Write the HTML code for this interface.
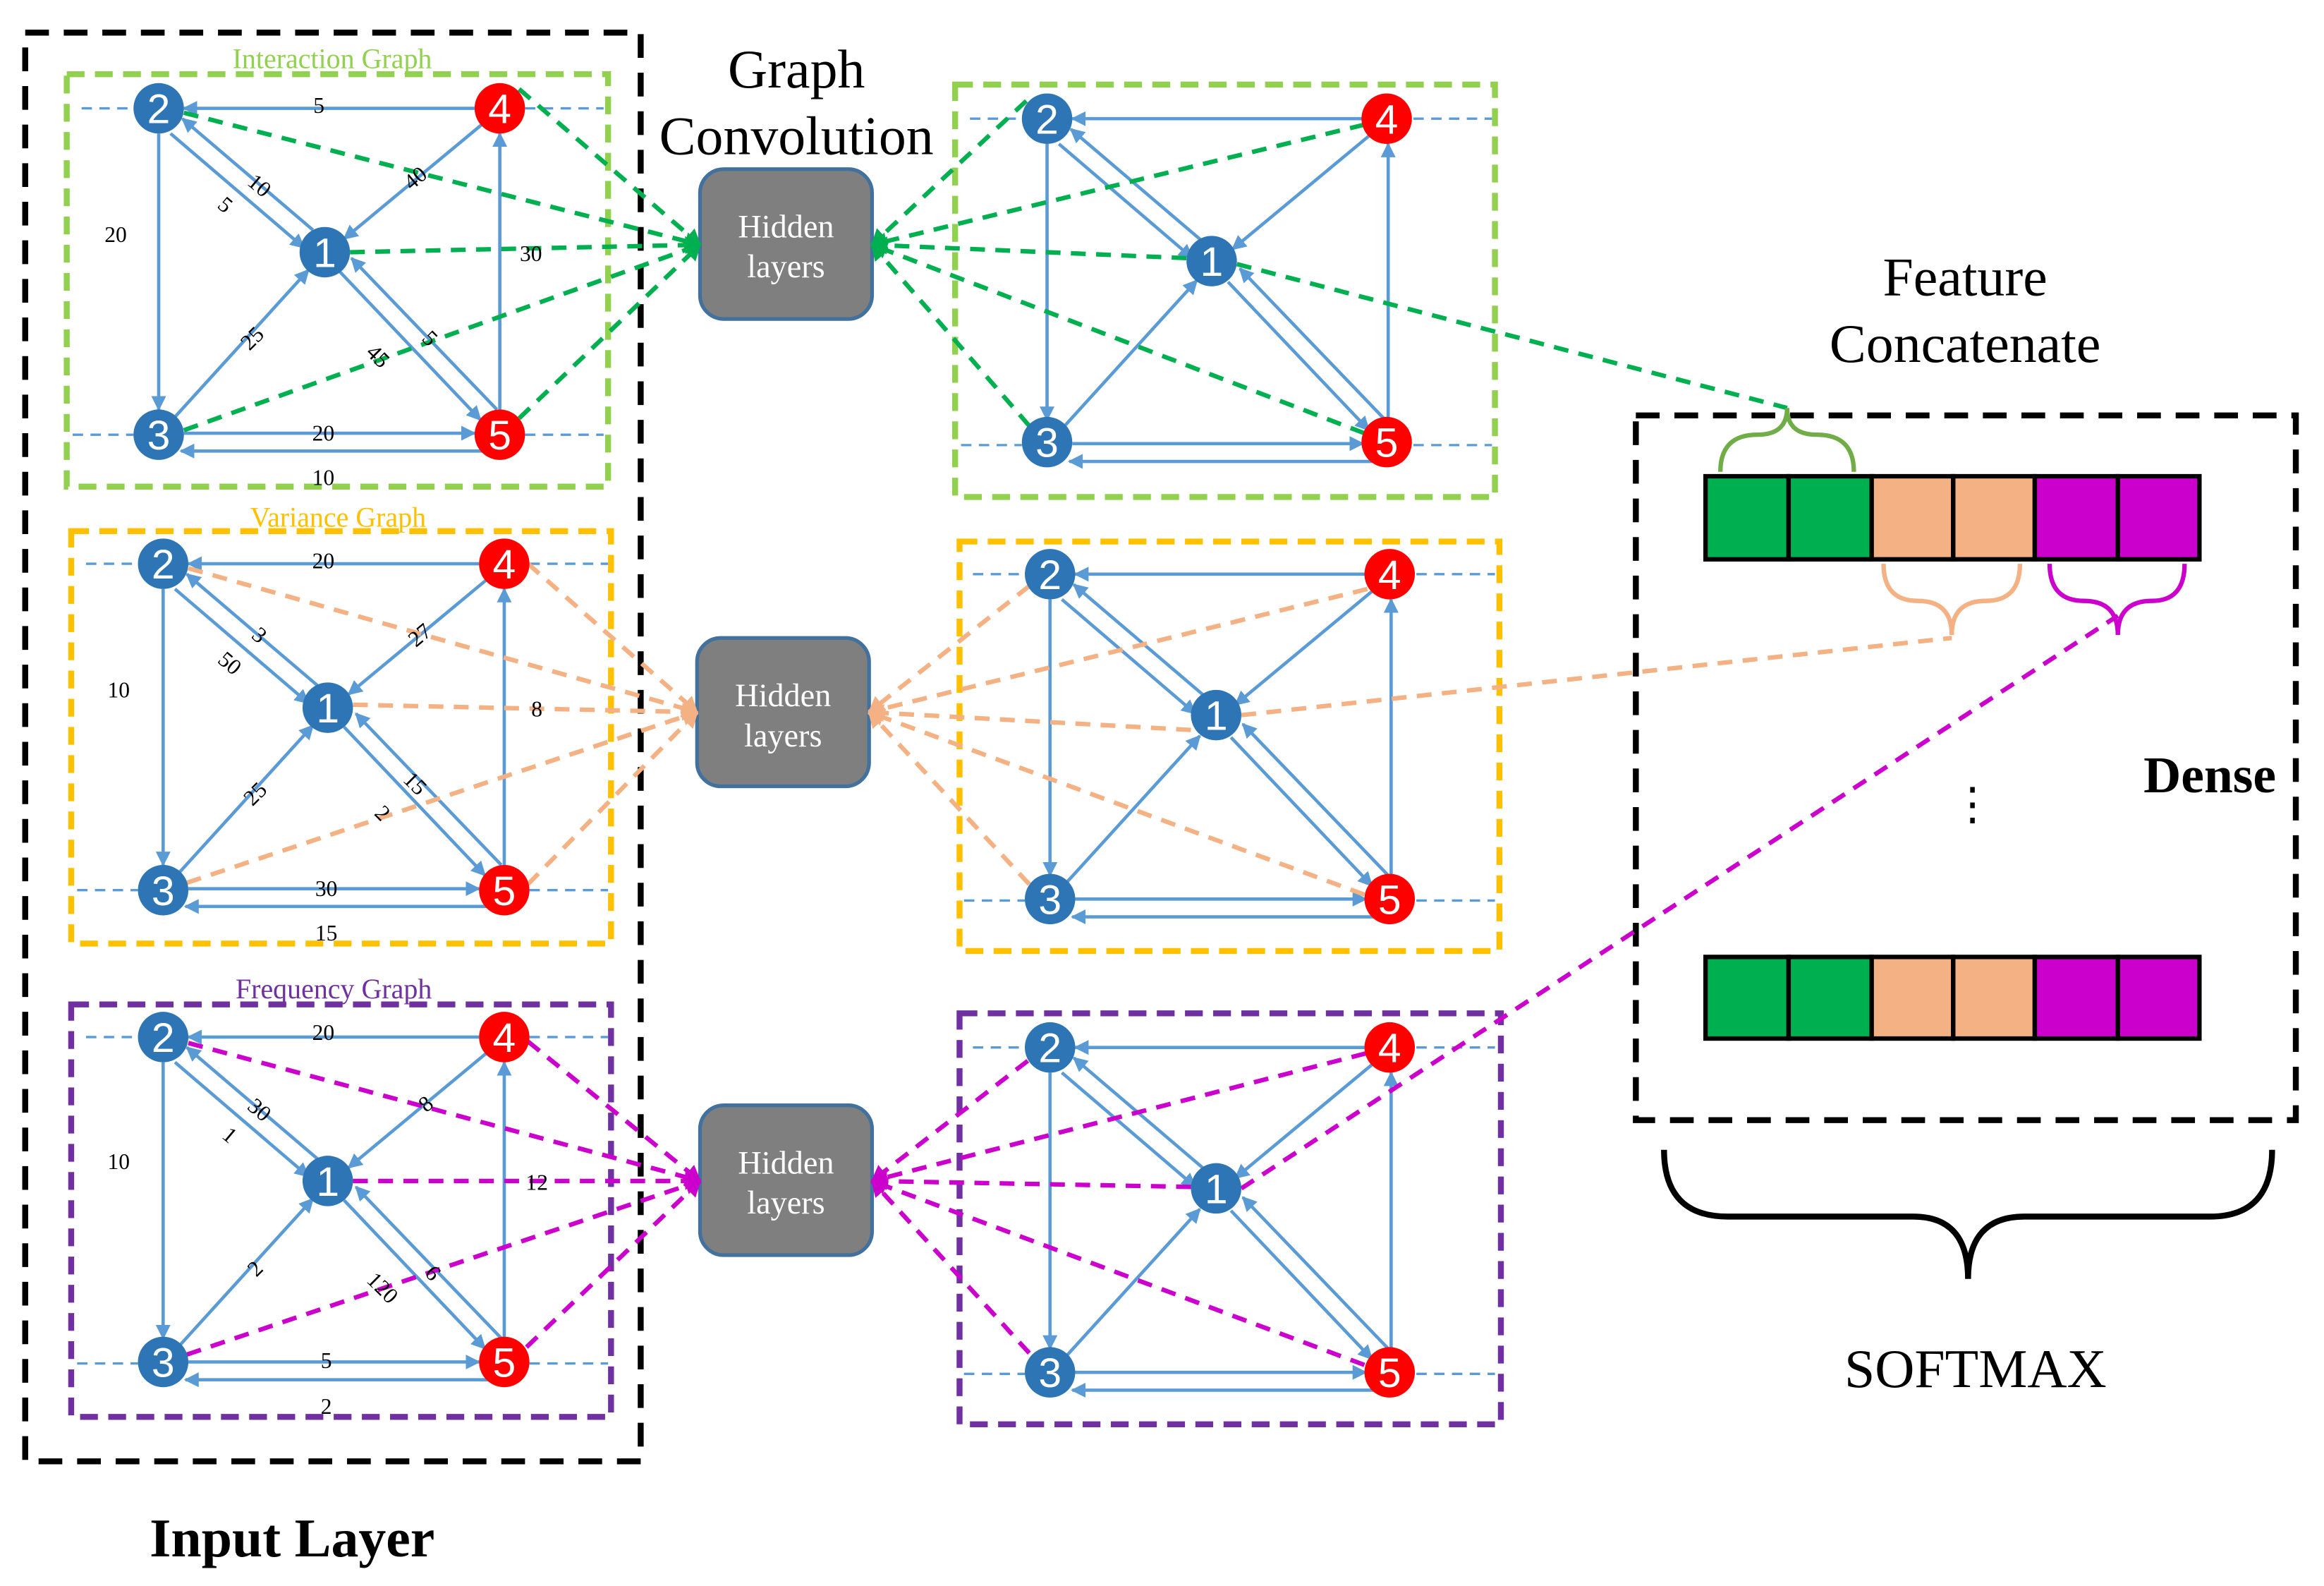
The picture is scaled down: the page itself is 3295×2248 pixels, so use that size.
<!DOCTYPE html>
<html><head><meta charset="utf-8"><style>
html,body{margin:0;padding:0;background:#fff;}
svg{display:block;}
text{font-family:"Liberation Serif",serif;}
.n{font-family:"Liberation Sans",sans-serif;fill:#fff;font-size:28px;text-anchor:middle;}
.lb{font-size:15px;fill:#000;text-anchor:middle;}
.e{stroke:#5b9bd5;stroke-width:2.2;fill:none;marker-end:url(#ab);}
.d{stroke:#5b9bd5;stroke-width:1.6;stroke-dasharray:7 5;fill:none;}
.g{stroke:#00b050;stroke-width:3;stroke-dasharray:10 7;fill:none;}
.o{stroke:#f4b183;stroke-width:3;stroke-dasharray:10 7;fill:none;}
.m{stroke:#cc00cc;stroke-width:3;stroke-dasharray:10 7;fill:none;}
</style></head><body>
<svg width="3295" height="2248" viewBox="0 0 1567 1069" preserveAspectRatio="none" xmlns="http://www.w3.org/2000/svg">
<defs>
<marker id="ab" markerWidth="10" markerHeight="10" refX="9" refY="5" orient="auto" markerUnits="userSpaceOnUse"><path d="M0,0 L10,5 L0,10 z" fill="#5b9bd5"/></marker>
<marker id="ag" markerWidth="12" markerHeight="12" refX="10" refY="6" orient="auto" markerUnits="userSpaceOnUse"><path d="M0,0 L11,6 L0,12 z" fill="#00b050"/></marker>
<marker id="ao" markerWidth="12" markerHeight="12" refX="10" refY="6" orient="auto" markerUnits="userSpaceOnUse"><path d="M0,0 L11,6 L0,12 z" fill="#f4b183"/></marker>
<marker id="am" markerWidth="12" markerHeight="12" refX="10" refY="6" orient="auto" markerUnits="userSpaceOnUse"><path d="M0,0 L11,6 L0,12 z" fill="#cc00cc"/></marker>
<g id="sk">
<line class="d" x1="-52" y1="0" x2="-17" y2="0"/>
<line class="d" x1="247" y1="0" x2="300" y2="0"/>
<line class="d" x1="-58" y1="220" x2="-17" y2="220"/>
<line class="d" x1="247" y1="220" x2="300" y2="220"/>
<line class="e" x1="213" y1="0" x2="17" y2="0"/>
<line class="e" x1="0" y1="17" x2="0" y2="203"/>
<line class="e" x1="230" y1="203" x2="230" y2="17"/>
<line class="e" x1="17" y1="219" x2="213" y2="219"/>
<line class="e" x1="222" y1="231" x2="15" y2="231"/>
<line class="e" x1="8" y1="17" x2="98" y2="94"/>
<line class="e" x1="104" y1="82" x2="16" y2="7"/>
<line class="e" x1="11" y1="208" x2="101" y2="109"/>
<line class="e" x1="219" y1="10" x2="125" y2="88"/>
<line class="e" x1="122" y1="110" x2="217" y2="210"/>
<line class="e" x1="228" y1="203" x2="130" y2="101"/>
</g>
</defs>

<rect x="17" y="22" width="415" height="963" fill="none" stroke="#000" stroke-width="4" stroke-dasharray="16 10"/>
<rect x="1103" y="280" width="445" height="475" fill="none" stroke="#000" stroke-width="4" stroke-dasharray="16 10"/>

<rect x="45" y="50" width="365" height="278" fill="none" stroke="#92d050" stroke-width="4" stroke-dasharray="12 7"/>
<rect x="644" y="57" width="364" height="278" fill="none" stroke="#92d050" stroke-width="4" stroke-dasharray="12 7"/>
<rect x="48" y="358" width="364" height="278" fill="none" stroke="#ffc000" stroke-width="4" stroke-dasharray="12 7"/>
<rect x="647" y="365" width="364" height="276" fill="none" stroke="#ffc000" stroke-width="4" stroke-dasharray="12 7"/>
<rect x="48" y="677" width="364" height="278" fill="none" stroke="#7030a0" stroke-width="4" stroke-dasharray="12 7"/>
<rect x="647" y="683" width="365" height="277" fill="none" stroke="#7030a0" stroke-width="4" stroke-dasharray="12 7"/>

<text x="224" y="46" font-size="19" fill="#92d050" text-anchor="middle">Interaction Graph</text>
<text x="228" y="355" font-size="19" fill="#ffc000" text-anchor="middle">Variance Graph</text>
<text x="225" y="673" font-size="19" fill="#7030a0" text-anchor="middle">Frequency Graph</text>

<use href="#sk" x="107" y="73"/>
<use href="#sk" x="706" y="80"/>
<use href="#sk" x="110" y="380"/>
<use href="#sk" x="708" y="387"/>
<use href="#sk" x="110" y="699"/>
<use href="#sk" x="708" y="706"/>

<rect x="472" y="114" width="116" height="101" rx="16" fill="#7f7f7f" stroke="#41719c" stroke-width="2.5"/>
<rect x="470" y="430" width="116" height="100" rx="16" fill="#7f7f7f" stroke="#41719c" stroke-width="2.5"/>
<rect x="472" y="745" width="116" height="101" rx="16" fill="#7f7f7f" stroke="#41719c" stroke-width="2.5"/>
<text x="530" y="160" font-size="22" fill="#fff" text-anchor="middle">Hidden</text>
<text x="530" y="187" font-size="22" fill="#fff" text-anchor="middle">layers</text>
<text x="528" y="476" font-size="22" fill="#fff" text-anchor="middle">Hidden</text>
<text x="528" y="503" font-size="22" fill="#fff" text-anchor="middle">layers</text>
<text x="530" y="791" font-size="22" fill="#fff" text-anchor="middle">Hidden</text>
<text x="530" y="818" font-size="22" fill="#fff" text-anchor="middle">layers</text>

<g class="g">
<line x1="124" y1="76" x2="472" y2="165" marker-end="url(#ag)"/>
<line x1="350" y1="60" x2="472" y2="165" marker-end="url(#ag)"/>
<line x1="236" y1="170" x2="472" y2="165" marker-end="url(#ag)"/>
<line x1="124" y1="290" x2="472" y2="165" marker-end="url(#ag)"/>
<line x1="350" y1="282" x2="472" y2="165" marker-end="url(#ag)"/>
<line x1="692" y1="68" x2="588" y2="165" marker-end="url(#ag)"/>
<line x1="920" y1="84" x2="588" y2="165" marker-end="url(#ag)"/>
<line x1="800" y1="174" x2="588" y2="165" marker-end="url(#ag)"/>
<line x1="694" y1="287" x2="588" y2="165" marker-end="url(#ag)"/>
<line x1="920" y1="292" x2="588" y2="165" marker-end="url(#ag)"/>
<line x1="834" y1="178" x2="1205" y2="275"/>
</g>
<g class="o">
<line x1="127" y1="383" x2="470" y2="480" marker-end="url(#ao)"/>
<line x1="356" y1="380" x2="470" y2="480" marker-end="url(#ao)"/>
<line x1="238" y1="475" x2="470" y2="480" marker-end="url(#ao)"/>
<line x1="126" y1="595" x2="470" y2="480" marker-end="url(#ao)"/>
<line x1="356" y1="596" x2="470" y2="480" marker-end="url(#ao)"/>
<line x1="694" y1="395" x2="586" y2="480" marker-end="url(#ao)"/>
<line x1="922" y1="397" x2="586" y2="480" marker-end="url(#ao)"/>
<line x1="803" y1="492" x2="586" y2="480" marker-end="url(#ao)"/>
<line x1="694" y1="596" x2="586" y2="480" marker-end="url(#ao)"/>
<line x1="920" y1="603" x2="586" y2="480" marker-end="url(#ao)"/>
<line x1="837" y1="482" x2="1316" y2="430"/>
</g>
<g class="m">
<line x1="127" y1="703" x2="472" y2="796" marker-end="url(#am)"/>
<line x1="356" y1="702" x2="472" y2="796" marker-end="url(#am)"/>
<line x1="238" y1="796" x2="472" y2="796" marker-end="url(#am)"/>
<line x1="126" y1="913" x2="472" y2="796" marker-end="url(#am)"/>
<line x1="355" y1="908" x2="472" y2="796" marker-end="url(#am)"/>
<line x1="693" y1="715" x2="588" y2="796" marker-end="url(#am)"/>
<line x1="921" y1="710" x2="588" y2="796" marker-end="url(#am)"/>
<line x1="803" y1="800" x2="588" y2="796" marker-end="url(#am)"/>
<line x1="694" y1="912" x2="588" y2="796" marker-end="url(#am)"/>
<line x1="920" y1="920" x2="588" y2="796" marker-end="url(#am)"/>
<line x1="837" y1="801" x2="1428" y2="415"/>
</g>

<g>
<circle cx="107" cy="73" r="17" fill="#2e75b6"/><text class="n" x="107" y="83">2</text>
<circle cx="337" cy="73" r="17" fill="#ff0000"/><text class="n" x="337" y="83">4</text>
<circle cx="219" cy="170" r="17" fill="#2e75b6"/><text class="n" x="219" y="180">1</text>
<circle cx="107" cy="293" r="17" fill="#2e75b6"/><text class="n" x="107" y="303">3</text>
<circle cx="337" cy="293" r="17" fill="#ff0000"/><text class="n" x="337" y="303">5</text>

<circle cx="706" cy="80" r="17" fill="#2e75b6"/><text class="n" x="706" y="90">2</text>
<circle cx="935" cy="80" r="17" fill="#ff0000"/><text class="n" x="935" y="90">4</text>
<circle cx="817" cy="176" r="17" fill="#2e75b6"/><text class="n" x="817" y="186">1</text>
<circle cx="706" cy="298" r="17" fill="#2e75b6"/><text class="n" x="706" y="308">3</text>
<circle cx="935" cy="298" r="17" fill="#ff0000"/><text class="n" x="935" y="308">5</text>

<circle cx="110" cy="380" r="17" fill="#2e75b6"/><text class="n" x="110" y="390">2</text>
<circle cx="340" cy="380" r="17" fill="#ff0000"/><text class="n" x="340" y="390">4</text>
<circle cx="221" cy="477" r="17" fill="#2e75b6"/><text class="n" x="221" y="487">1</text>
<circle cx="110" cy="600" r="17" fill="#2e75b6"/><text class="n" x="110" y="610">3</text>
<circle cx="340" cy="600" r="17" fill="#ff0000"/><text class="n" x="340" y="610">5</text>

<circle cx="708" cy="387" r="17" fill="#2e75b6"/><text class="n" x="708" y="397">2</text>
<circle cx="937" cy="387" r="17" fill="#ff0000"/><text class="n" x="937" y="397">4</text>
<circle cx="820" cy="482" r="17" fill="#2e75b6"/><text class="n" x="820" y="492">1</text>
<circle cx="708" cy="606" r="17" fill="#2e75b6"/><text class="n" x="708" y="616">3</text>
<circle cx="937" cy="606" r="17" fill="#ff0000"/><text class="n" x="937" y="616">5</text>

<circle cx="110" cy="699" r="17" fill="#2e75b6"/><text class="n" x="110" y="709">2</text>
<circle cx="340" cy="699" r="17" fill="#ff0000"/><text class="n" x="340" y="709">4</text>
<circle cx="221" cy="796" r="17" fill="#2e75b6"/><text class="n" x="221" y="806">1</text>
<circle cx="110" cy="918" r="17" fill="#2e75b6"/><text class="n" x="110" y="928">3</text>
<circle cx="340" cy="918" r="17" fill="#ff0000"/><text class="n" x="340" y="928">5</text>

<circle cx="708" cy="706" r="17" fill="#2e75b6"/><text class="n" x="708" y="716">2</text>
<circle cx="937" cy="706" r="17" fill="#ff0000"/><text class="n" x="937" y="716">4</text>
<circle cx="820" cy="801" r="17" fill="#2e75b6"/><text class="n" x="820" y="811">1</text>
<circle cx="708" cy="925" r="17" fill="#2e75b6"/><text class="n" x="708" y="935">3</text>
<circle cx="937" cy="925" r="17" fill="#ff0000"/><text class="n" x="937" y="935">5</text>
</g>

<g class="lb">
<text x="215" y="76">5</text><text x="78" y="163">20</text>
<text x="175" y="130" transform="rotate(40 175 125)">10</text>
<text x="152" y="143" transform="rotate(40 152 138)">5</text>
<text x="280" y="125" transform="rotate(-40 280 120)">40</text>
<text x="358" y="176">30</text>
<text x="170" y="233" transform="rotate(-45 170 228)">25</text>
<text x="255" y="245" transform="rotate(45 255 240)">45</text>
<text x="290" y="233" transform="rotate(45 290 228)">5</text>
<text x="218" y="297">20</text><text x="218" y="327">10</text>

<text x="218" y="383">20</text><text x="80" y="470">10</text>
<text x="175" y="433" transform="rotate(40 175 428)">3</text>
<text x="155" y="452" transform="rotate(40 155 447)">50</text>
<text x="283" y="433" transform="rotate(-40 283 428)">27</text>
<text x="362" y="483">8</text>
<text x="172" y="540" transform="rotate(-45 172 535)">25</text>
<text x="280" y="533" transform="rotate(45 280 528)">15</text>
<text x="258" y="553" transform="rotate(45 258 548)">2</text>
<text x="220" y="604">30</text><text x="220" y="634">15</text>

<text x="218" y="701">20</text><text x="80" y="788">10</text>
<text x="175" y="753" transform="rotate(40 175 748)">30</text>
<text x="155" y="770" transform="rotate(40 155 765)">1</text>
<text x="287" y="749" transform="rotate(-40 287 744)">8</text>
<text x="362" y="802">12</text>
<text x="172" y="860" transform="rotate(-45 172 855)">2</text>
<text x="258" y="873" transform="rotate(45 258 868)">120</text>
<text x="292" y="863" transform="rotate(45 292 858)">6</text>
<text x="220" y="922">5</text><text x="220" y="953">2</text>
</g>

<g stroke="#000" stroke-width="3">
<rect x="1150" y="321" width="56" height="56" fill="#00b050"/>
<rect x="1206" y="321" width="56" height="56" fill="#00b050"/>
<rect x="1262" y="321" width="55" height="56" fill="#f4b183"/>
<rect x="1317" y="321" width="55" height="56" fill="#f4b183"/>
<rect x="1372" y="321" width="56" height="56" fill="#cc00cc"/>
<rect x="1428" y="321" width="55" height="56" fill="#cc00cc"/>
<rect x="1150" y="645" width="56" height="55" fill="#00b050"/>
<rect x="1206" y="645" width="56" height="55" fill="#00b050"/>
<rect x="1262" y="645" width="55" height="55" fill="#f4b183"/>
<rect x="1317" y="645" width="55" height="55" fill="#f4b183"/>
<rect x="1372" y="645" width="56" height="55" fill="#cc00cc"/>
<rect x="1428" y="645" width="55" height="55" fill="#cc00cc"/>
</g>
<path d="M1160,318 Q1160,293 1185,293 Q1205,293 1205,275 Q1205,293 1225,293 Q1250,293 1250,318" fill="none" stroke="#70ad47" stroke-width="3"/>
<path d="M1270,380 Q1270,405 1293,405 Q1316,405 1316,428 Q1316,405 1339,405 Q1362,405 1362,380" fill="none" stroke="#f4b183" stroke-width="3"/>
<path d="M1382,380 Q1382,405 1405,405 Q1428,405 1428,428 Q1428,405 1451,405 Q1473,405 1473,380" fill="none" stroke="#cc00cc" stroke-width="3"/>
<path d="M1122,775 Q1122,820 1165,820 L1290,820 Q1327,820 1327,862 Q1327,820 1365,820 L1490,820 Q1532,820 1532,775" fill="none" stroke="#000" stroke-width="4"/>

<text x="1330" y="552" font-size="30" text-anchor="middle">⋮</text>
<text x="1490" y="534" font-size="35" font-weight="bold" text-anchor="middle">Dense</text>
<text x="537" y="59" font-size="37" text-anchor="middle">Graph</text>
<text x="537" y="104" font-size="37" text-anchor="middle">Convolution</text>
<text x="1325" y="199" font-size="37" text-anchor="middle">Feature</text>
<text x="1325" y="244" font-size="37" text-anchor="middle">Concatenate</text>
<text x="1332" y="935" font-size="37" text-anchor="middle">SOFTMAX</text>
<text x="197" y="1049" font-size="37" font-weight="bold" text-anchor="middle">Input Layer</text>
</svg>
</body></html>
